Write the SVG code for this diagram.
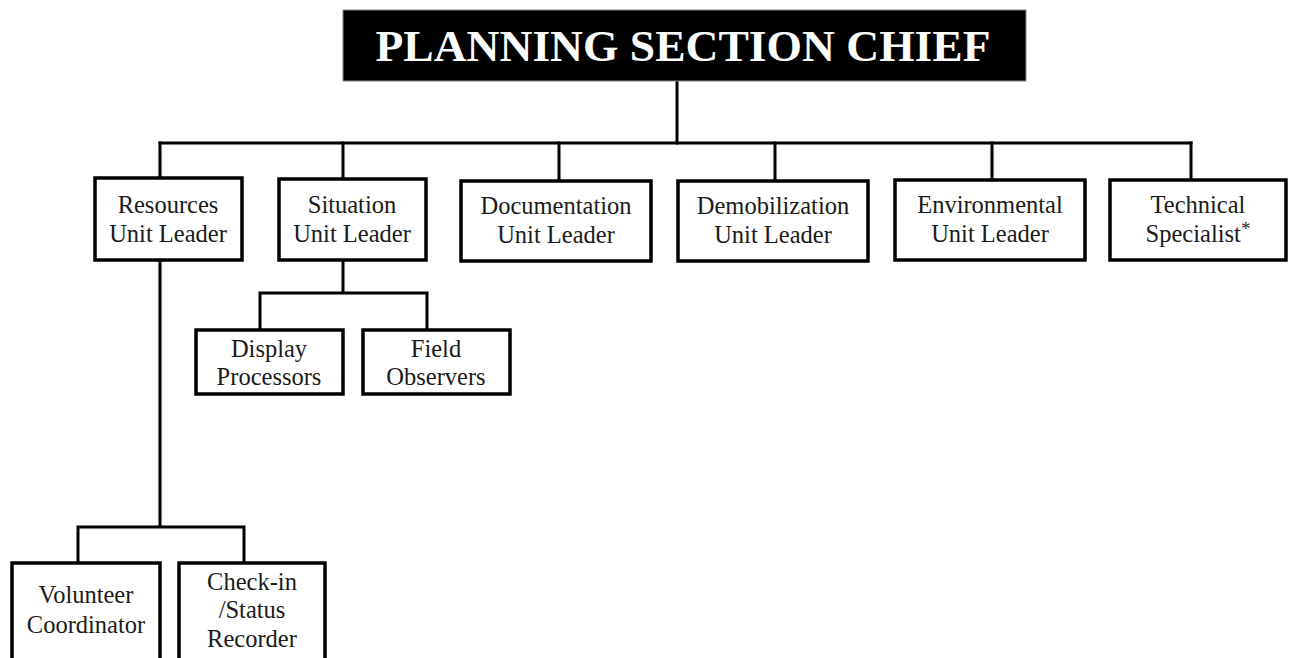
<svg xmlns="http://www.w3.org/2000/svg" width="1304" height="658" viewBox="0 0 1304 658">
  <style>
    .box { fill: #fff; stroke: #000; stroke-width: 3.5; }
    .wire { fill: none; stroke: #000; stroke-width: 3; stroke-linecap: square; }
    .lbl { font-family: "Liberation Serif", "Times New Roman", serif; font-size: 24.5px; fill: #1a1a1a; text-anchor: middle; }
    .title { font-family: "Liberation Serif", "Times New Roman", serif; font-size: 45px; font-weight: bold; fill: #fff; text-anchor: middle; }
  </style>
  <rect width="1304" height="658" fill="#fff"/>

  <!-- connectors -->
  <g id="connectors" class="wire">
    <path d="M677 81 V143"/>
    <path d="M160 143 H1191"/>
    <path d="M160 143 V178 M343 143 V178 M559 143 V180 M775 143 V180 M992 143 V180 M1191 143 V180"/>
    <path d="M343 262 V293 M260 293 H427 M260 293 V329 M427 293 V329"/>
    <path d="M160 262 V527 M78 527 H244 M78 527 V562 M244 527 V562"/>
  </g>

  <!-- top -->
  <g id="planning-section-chief">
    <rect x="343" y="10" width="683" height="71" fill="#000" stroke="#888" stroke-width="1"/>
    <text class="title" x="683" y="61" textLength="615" lengthAdjust="spacingAndGlyphs">PLANNING SECTION CHIEF</text>
  </g>

  <!-- unit leaders -->
  <g id="resources-unit-leader">
    <rect class="box" x="95" y="178" width="147" height="82"/>
    <text class="lbl" x="168" y="213">Resources</text>
    <text class="lbl" x="168" y="242">Unit Leader</text>
  </g>
  <g id="situation-unit-leader">
    <rect class="box" x="279" y="179" width="147" height="81"/>
    <text class="lbl" x="352" y="213">Situation</text>
    <text class="lbl" x="352" y="242">Unit Leader</text>
  </g>
  <g id="documentation-unit-leader">
    <rect class="box" x="461" y="181" width="190" height="80"/>
    <text class="lbl" x="556" y="214">Documentation</text>
    <text class="lbl" x="556" y="243">Unit Leader</text>
  </g>
  <g id="demobilization-unit-leader">
    <rect class="box" x="678" y="181" width="190" height="80"/>
    <text class="lbl" x="773" y="214">Demobilization</text>
    <text class="lbl" x="773" y="243">Unit Leader</text>
  </g>
  <g id="environmental-unit-leader">
    <rect class="box" x="895" y="180" width="190" height="80"/>
    <text class="lbl" x="990" y="213">Environmental</text>
    <text class="lbl" x="990" y="242">Unit Leader</text>
  </g>
  <g id="technical-specialist">
    <rect class="box" x="1110" y="180" width="176" height="80"/>
    <text class="lbl" x="1198" y="213">Technical</text>
    <text class="lbl" x="1198" y="242">Specialist<tspan font-size="19" dy="-7">*</tspan></text>
  </g>

  <!-- situation unit -->
  <g id="display-processors">
    <rect class="box" x="196" y="330" width="147" height="64"/>
    <text class="lbl" x="269" y="357">Display</text>
    <text class="lbl" x="269" y="385">Processors</text>
  </g>
  <g id="field-observers">
    <rect class="box" x="363" y="330" width="147" height="64"/>
    <text class="lbl" x="436" y="357">Field</text>
    <text class="lbl" x="436" y="385">Observers</text>
  </g>

  <!-- resources unit -->
  <g id="volunteer-coordinator">
    <rect class="box" x="12" y="563" width="148" height="110"/>
    <text class="lbl" x="86" y="603">Volunteer</text>
    <text class="lbl" x="86" y="633">Coordinator</text>
  </g>
  <g id="check-in-status-recorder">
    <rect class="box" x="179" y="563" width="146" height="110"/>
    <text class="lbl" x="252" y="590">Check-in</text>
    <text class="lbl" x="252" y="618">/Status</text>
    <text class="lbl" x="252" y="647">Recorder</text>
  </g>
</svg>
